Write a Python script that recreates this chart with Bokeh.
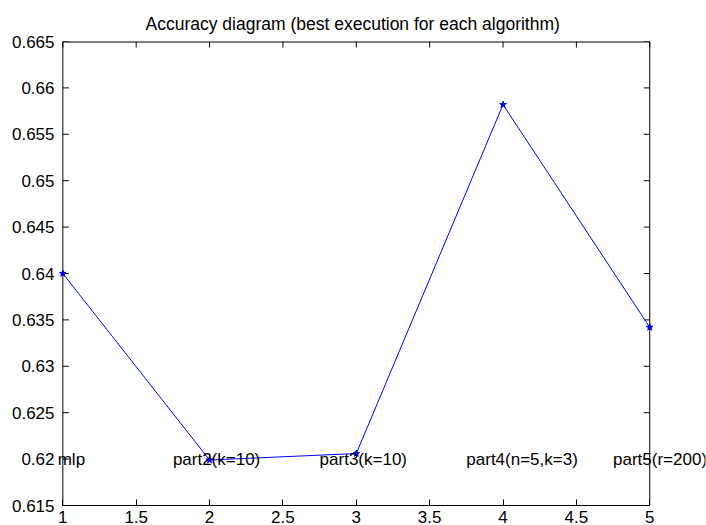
import math
from bokeh.plotting import figure
from bokeh.models import Range1d, LinearAxis, FixedTicker, Title, LabelSet, ColumnDataSource
from bokeh.core.properties import value
from bokeh.embed import file_html
from bokeh.resources import INLINE

# data
x_vals = [1, 2, 3, 4, 5]
accuracy = [0.640, 0.6199, 0.6206, 0.6582, 0.6342]
labels = ["mlp", "part2(k=10)", "part3(k=10)", "part4(n=5,k=3)", "part5(r=200)"]
label_x = [0.965, 1.75, 2.75, 3.75, 4.75]
label_y = [0.62, 0.62, 0.62, 0.62, 0.62]

x_ticks = [1, 1.5, 2, 2.5, 3, 3.5, 4, 4.5, 5]
x_tick_labels = ["1", "1.5", "2", "2.5", "3", "3.5", "4", "4.5", "5"]
y_ticks = [0.615, 0.62, 0.625, 0.63, 0.635, 0.64, 0.645, 0.65, 0.655, 0.66, 0.665]
y_tick_labels = ["0.615", "0.62", "0.625", "0.63", "0.635", "0.64", "0.645", "0.65", "0.655", "0.66", "0.665"]

X_MIN, X_MAX = 1, 5
Y_MIN, Y_MAX = 0.615, 0.665
# view extends past the axes box so that the text labels are not clipped
X_VIEW_MIN, X_VIEW_MAX = 0.95, 5.38

FONT = "Liberation Sans"
FS = "17px"

p = figure(width=706, height=525, output_backend="svg", toolbar_location=None,
           x_range=Range1d(X_VIEW_MIN, X_VIEW_MAX), y_range=Range1d(Y_MIN, Y_MAX),
           x_axis_location=None, y_axis_location=None,
           min_border_left=55, min_border_right=1, min_border_top=41, min_border_bottom=20)
p.grid.visible = False
p.outline_line_color = None
p.background_fill_color = "white"
p.border_fill_color = "white"

p.title = Title(text="Accuracy diagram (best execution for each algorithm)", align="left",
                offset=90, text_font=FONT, text_font_size="17.5px", text_font_style="normal",
                text_color="black", standoff=16)

def style(ax):
    ax.axis_line_color = "black"
    ax.major_tick_line_color = "black"
    ax.major_tick_in = 6
    ax.major_tick_out = 0
    ax.minor_tick_line_color = None
    ax.major_label_text_font = FONT
    ax.major_label_text_font_size = FS
    ax.major_label_text_color = "black"
    ax.major_label_standoff = 5

xover = {t: l for t, l in zip(x_ticks, x_tick_labels)}
yover = {t: l for t, l in zip(y_ticks, y_tick_labels)}

bx = LinearAxis(ticker=FixedTicker(ticks=x_ticks), major_label_overrides=xover,
                bounds=(X_MIN, X_MAX))
style(bx)
p.add_layout(bx, "below")

# left axis: only its labels; its line and ticks are drawn at x = X_MIN below
ly = LinearAxis(ticker=FixedTicker(ticks=y_ticks), major_label_overrides=yover)
style(ly)
ly.axis_line_color = None
ly.major_tick_line_color = None
ly.major_label_standoff = 1
p.add_layout(ly, "left")

# edges of the axes box, with inward ticks
p.segment(x0=[X_MIN], y0=[Y_MAX], x1=[X_MAX], y1=[Y_MAX], line_color="black", line_width=2)
p.segment(x0=[X_MAX], y0=[Y_MIN], x1=[X_MAX], y1=[Y_MAX], line_color="black", line_width=1)
p.segment(x0=[X_MIN], y0=[Y_MIN], x1=[X_MIN], y1=[Y_MAX], line_color="black", line_width=1)
p.ray(x=x_ticks, y=[Y_MAX] * len(x_ticks), length=6, length_units="screen",
      angle=-math.pi / 2, line_color="black", line_width=1)
p.ray(x=[X_MAX] * len(y_ticks), y=y_ticks, length=6, length_units="screen",
      angle=math.pi, line_color="black", line_width=1)
p.ray(x=[X_MIN] * len(y_ticks), y=y_ticks, length=6, length_units="screen",
      angle=0, line_color="black", line_width=1)

src = ColumnDataSource(dict(x=label_x, y=label_y, text=labels))
p.add_layout(LabelSet(x="x", y="y", text="text", source=src, text_font=value(FONT),
                      text_font_size=value(FS), text_align="left", text_baseline="middle",
                      text_color="black"))

p.line(x_vals, accuracy, line_color="#0000ff", line_width=1)
p.scatter(x_vals, accuracy, marker="star", size=7, line_color="#0000ff", fill_color="#0000ff")

open("out.html", "w").write(file_html(p, INLINE))
